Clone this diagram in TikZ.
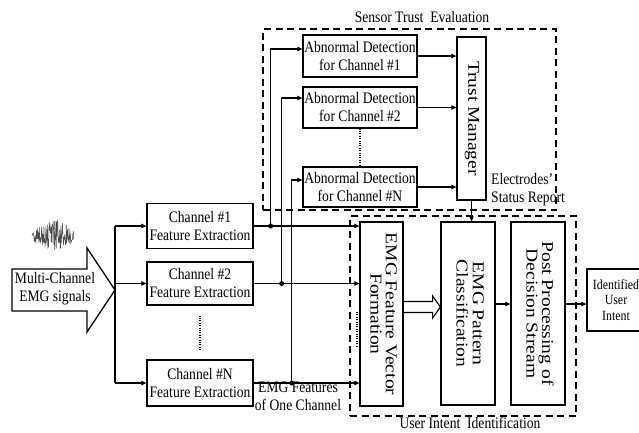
\documentclass[tikz,border=0pt]{standalone}
\usepackage{fontspec}
\usepackage{graphicx}
\setmainfont{Liberation Serif}[FakeStretch=0.85]
\newfontfamily\rotfont{Liberation Serif}
\usetikzlibrary{arrows.meta,calc}
\newcommand\bfs{\fontsize{16}{18}\selectfont}
\newcommand\rtext[1]{\rotatebox{-90}{\scalebox{1}[0.85]{\rotfont\fontsize{19.5}{17.5}\selectfont\begin{tabular}{@{}c@{}}#1\end{tabular}}}}
\tikzset{
  box/.style={draw, line width=1.3pt, inner sep=1pt, align=center, font=\bfs},
  ln/.style={line width=1.1pt},
  arr/.style={line width=1.1pt, -{Triangle[length=5pt,width=4.5pt]}},
  dbox/.style={draw, line width=1.8pt, dash pattern=on 7pt off 4.5pt, inner sep=0pt},
  jdot/.style={circle, fill, inner sep=0pt, minimum size=5pt},
  lbl/.style={font=\bfs, align=center, inner sep=0pt},
  dots/.style={line width=1.3pt, dash pattern=on 1pt off 1.4pt}
}
\begin{document}
\begin{tikzpicture}[x=1pt,y=-1pt]
\useasboundingbox (0,0) rectangle (639,432);
% dashed groups
\node[dbox, minimum width=293pt, minimum height=181pt] (ste) at (409.5,119.5) {};
\node[dbox, minimum width=226pt, minimum height=200pt] (ui) at (463,316) {};
\node[lbl, anchor=base] (stl) at (422,22) {Sensor Trust\ \ Evaluation};
\node[lbl, anchor=base] (uil) at (470,428) {User Intent\ \ Identification};
% EMG noise
\pgfmathsetseed{11}
\draw[black!70, line width=0.5pt] plot[domain=32:74, samples=110] (\x,{236+(5+11*sin((\x-32)/42*180))*rand});
% big input arrow
\coordinate (tip) at (115,290);
\draw[line width=1.3pt] (12,269) -- (87,269) -- (87,248) -- (tip) -- (87,332) -- (87,311) -- (12,311) -- cycle;
\node[lbl] (mc) at (55,289) {Multi-Channel\\EMG signals};
% feature extraction
\node[box, minimum width=106pt, minimum height=45pt] (fe1) at (200,226) {Channel \#1\\Feature Extraction};
\node[box, minimum width=106pt, minimum height=43pt] (fe2) at (200,283.5) {Channel \#2\\Feature Extraction};
\node[box, minimum width=106pt, minimum height=46pt] (feN) at (200,383) {Channel \#N\\Feature Extraction};
\draw[ln] (tip |- fe1) -- (tip |- feN);
\draw[arr] (tip |- fe1) -- (fe1.west);
\draw[arr] (tip |- fe2) -- (fe2.west);
\draw[arr] (tip |- feN) -- (feN.west);
\draw[dots] ([yshift=-10pt]fe2.south) -- ([yshift=10pt]feN.north);
% abnormal detection
\node[box, minimum width=114pt, minimum height=42pt] (ad1) at (360,56) {Abnormal Detection\\for Channel \#1};
\node[box, minimum width=114pt, minimum height=41pt] (ad2) at (360,107.5) {Abnormal Detection\\for Channel \#2};
\node[box, minimum width=114pt, minimum height=40pt] (adN) at (360,187) {Abnormal Detection\\for Channel \#N};
\draw[dots] (ad2.south) -- (adN.north);
% trust manager
\node[box, minimum width=29pt, minimum height=163pt] (tm) at (471.5,118.5) {\rtext{Trust Manager}};
\draw[arr] (ad1.east) -- (ad1.east -| tm.west);
\draw[arr] (ad2.east) -- (ad2.east -| tm.west);
\draw[arr] (adN.east) -- (adN.east -| tm.west);
\node[lbl, anchor=west, align=left] (esr) at (491,189.5) {Electrodes'\\Status Report};
% user intent identification
\node[box, minimum width=43pt, minimum height=184pt] (fv) at (381.5,314) {\rtext{EMG Feature Vector\\Formation}};
\node[box, minimum width=54pt, minimum height=183pt] (pc) at (468,313.5) {\rtext{EMG Pattern\\Classification}};
\node[box, minimum width=54pt, minimum height=183pt] (pp) at (538,313.5) {\rtext{Post Processing of\\Decision Stream}};
\node[box, minimum width=58pt, minimum height=62pt, font=\fontsize{14}{15.5}\selectfont] (id) at (616,300) {Identified\\User\\Intent};
% junctions
\node[jdot] (d1) at ($(fe1.east)+(17,0)$) {};
\node[jdot] (d2) at ($(fe2.east)+(28,0)$) {};
\node[jdot] (dN) at ($(feN.east)+(38,0)$) {};
\draw[arr] (fe1.east) -- (fe1.east -| fv.west);
\draw[arr] (fe2.east) -- (fe2.east -| fv.west);
\draw[arr] (feN.east) -- (feN.east -| fv.west);
\draw[arr] (d1.center) |- ([yshift=7pt]ad1.west);
\draw[arr] (d2.center) |- ([yshift=9.5pt]ad2.west);
\draw[arr] (dN.center) |- ([yshift=7pt]adN.west);
\node[lbl] (efl) at (298,396) {EMG Features\\of One Channel};
\coordinate (u1) at (357,312);
\coordinate (u2) at (357,347);
\draw[dots] (u1) -- (u2);
% trust to classification
\draw[arr] (tm.south) -- (tm.south |- pc.north);
% hollow arrow
\coordinate (ha) at ([yshift=7pt]fv.east);
\draw[line width=1.1pt] ($(ha)+(0,-5.5)$) -- ($(ha)+(29,-5.5)$) -- ($(ha)+(29,-11)$) -- (ha -| pc.west) -- ($(ha)+(29,11)$) -- ($(ha)+(29,5.5)$) -- ($(ha)+(0,5.5)$);
\draw[arr] ([yshift=9.5pt]pc.east) -- ([yshift=9.5pt]pc.east -| pp.west);
\draw[arr] ([yshift=9.5pt]pp.east) -- ([yshift=9.5pt]pp.east -| id.west);
\end{tikzpicture}
\end{document}
